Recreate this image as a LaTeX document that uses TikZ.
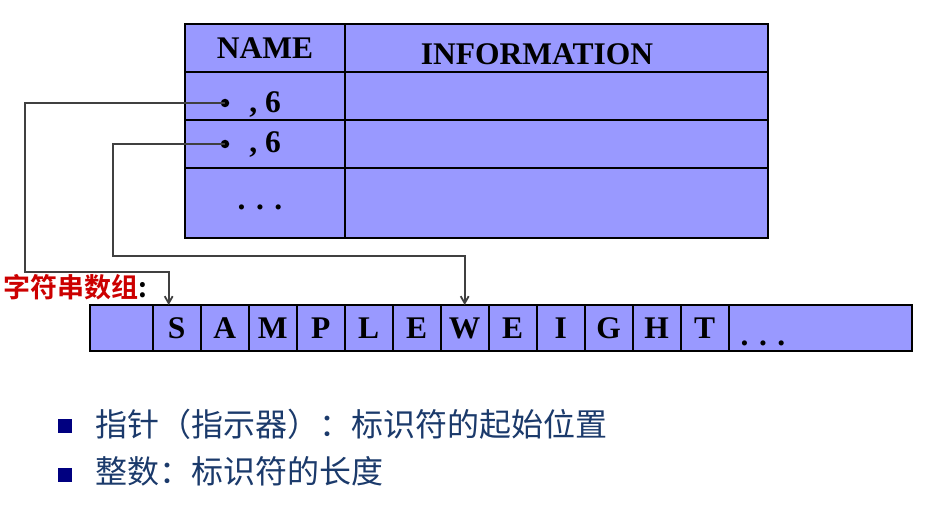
\documentclass[tikz,border=0pt]{standalone}
\usepackage{fontspec}
\setmainfont{Liberation Serif}
\newfontfamily\cjk{Noto Sans CJK SC}
\newfontfamily\cjkbf{Noto Sans CJK SC Bold}
\usetikzlibrary{
	arrows.meta,
	positioning
}
\definecolor{cellblue}{HTML}{9999FF}
\definecolor{labelred}{HTML}{CC0000}
\definecolor{textnavy}{HTML}{1B3A6B}
\definecolor{bulletnavy}{HTML}{000080}
\definecolor{linkgray}{HTML}{404040}

\begin{document}
\begin{tikzpicture}[x=1pt, y=-1pt,
				cell/.style={
					rectangle, draw, fill=cellblue, line width=1.6pt,
					anchor=north west, inner sep=0pt, outer sep=0pt,
					font=\bfseries\fontsize{31.5}{33}\selectfont
				},
				namecell/.style={
					cell, minimum width=160pt
				},
				infocell/.style={
					cell, minimum width=423pt
				},
				charcell/.style={
					cell, minimum width=48pt, minimum height=46pt
				},
				bigtext/.style={
					font=\bfseries\fontsize{31.5}{33}\selectfont
				},
				dot/.style={
					circle, fill=black, inner sep=0pt, minimum size=8.5pt
				},
				bulletbox/.style={
					rectangle, fill=bulletnavy, inner sep=0pt, minimum size=13.5pt
				},
				itemtext/.style={
					anchor=west, inner sep=0pt, text=textnavy,
					font=\cjk\fontsize{32}{35}\selectfont
				},
				link/.style={
					-{Straight Barb[length=7pt,width=8pt]},
					draw=linkgray, line width=1.8pt
				}
				]
				\useasboundingbox (0,0) rectangle (941,505);
				
				% table header
				\node[namecell, minimum height=48pt] (namehead) at (185,24) {NAME};
				\node[infocell, minimum height=48pt, right=0pt of namehead] (infohead) {};
				\node[bigtext] (infotext) at (537,54) {INFORMATION};
				
				% table rows
				\node[namecell, minimum height=48pt, below=0pt of namehead] (name1) {};
				\node[namecell, minimum height=48pt, below=0pt of name1] (name2) {};
				\node[namecell, minimum height=70pt, below=0pt of name2] (name3) {};
				\node[infocell, minimum height=48pt, right=0pt of name1] (info1) {};
				\node[infocell, minimum height=48pt, right=0pt of name2] (info2) {};
				\node[infocell, minimum height=70pt, right=0pt of name3] (info3) {};
				
				% pointers and lengths
				\node[dot] (p1) at (225,103) {};
				\node[dot] (p2) at (225,144) {};
				\node[bigtext, anchor=base] (len1) at (265,113) {, 6};
				\node[bigtext, anchor=base] (len2) at (265,153) {, 6};
				\node[bigtext, anchor=base] (moreNames) at (260,209) {. . .};
				
				% string array
				\node[charcell, minimum width=62.7pt] (c0) at (90,305) {};
				\foreach \ch [count=\i, remember=\i as \j (initially 0)] in {S,A,M,P,L,E,W,E,I,G,H,T}
					\node[charcell, right=0pt of c\j] (c\i) {\ch};
				\node[charcell, minimum width=183pt, right=0pt of c12] (cend) {};
				\node[bigtext, anchor=base] (moreChars) at (763,345) {. . .};
				
				% label
				\node[anchor=west, inner sep=0pt, text=labelred, font=\cjkbf\fontsize{27}{29}\selectfont] (arrayLabel) at (3,287) {字符串数组\textcolor{black}{:}};
				
				% bend points
				\coordinate (bend1) at (25,272);
				\coordinate (bend2) at (113,256);
				
				% links from pointers into the array
				\draw[link] (p1.center) -| (bend1) -| ([xshift=-8pt]c1.north);
				\draw[link] (p2.center) -| (bend2) -| (c7.north);
				
				% notes
				\node[bulletbox] (b1) at (65,426) {};
				\node[bulletbox] (b2) at (65,475) {};
				\node[itemtext] (note1) at (95,424) {指针（指示器）：标识符的起始位置};
				\node[itemtext] (note2) at (95,471) {整数：标识符的长度};
			\end{tikzpicture}
\end{document}
